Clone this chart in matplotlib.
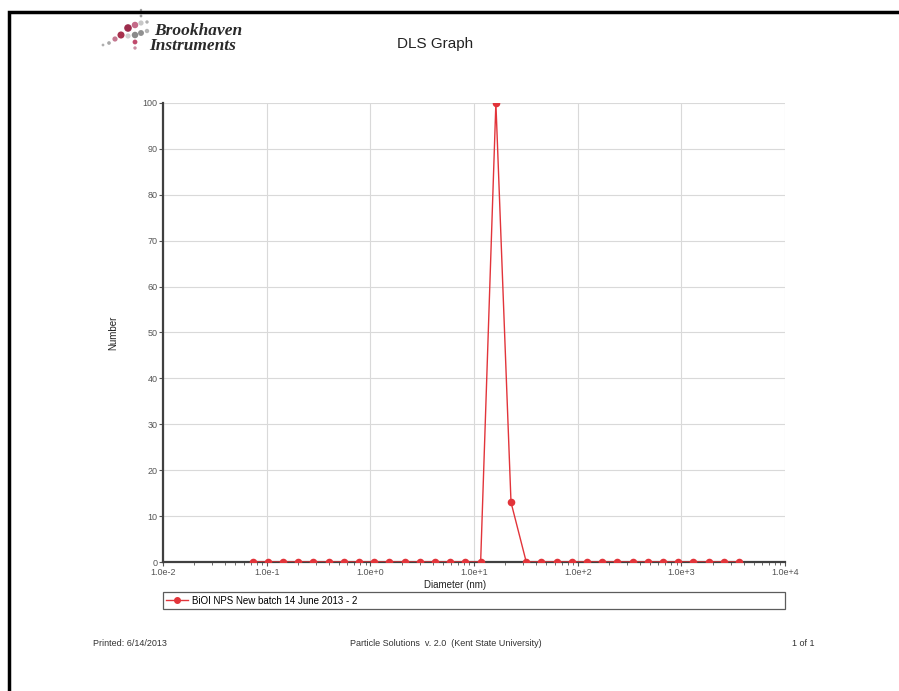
import numpy as np
import matplotlib
matplotlib.use("Agg")
import matplotlib.pyplot as plt
from matplotlib.lines import Line2D

plt.rcParams['font.family'] = ['Liberation Sans', 'DejaVu Sans']

# data
diameter = [0.0733, 0.1028, 0.144, 0.2018, 0.2827, 0.3963, 0.5555, 0.7783,
            1.091, 1.528, 2.143, 3.006, 4.207, 5.902, 8.26, 11.59,
            16.26, 22.75, 31.92, 44.67, 62.66, 87.9, 123.0, 172.6,
            241.5, 338.8, 475.3, 665.3, 933.3, 1306, 1832, 2570, 3597]
number = [0, 0, 0, 0, 0, 0, 0, 0,
          0, 0, 0, 0, 0, 0, 0, 0,
          100, 13, 0, 0, 0, 0, 0, 0,
          0, 0, 0, 0, 0, 0, 0, 0, 0]
series_name = "BiOI NPS New batch 14 June 2013 - 2"
xticks = [1e-2, 1e-1, 1e0, 1e1, 1e2, 1e3, 1e4]
xtick_labels = ["1.0e-2", "1.0e-1", "1.0e+0", "1.0e+1", "1.0e+2", "1.0e+3", "1.0e+4"]
yticks = list(range(0, 101, 10))

W, H = 899, 691
fig = plt.figure(figsize=(W / 100, H / 100), dpi=100)

# overlay axes in pixel coordinates for the page decoration
deco = fig.add_axes([0, 0, 1, 1], zorder=-1)
deco.set_xlim(0, W)
deco.set_ylim(H, 0)
deco.axis('off')
deco.plot([9, 9, W], [H, 12, 12], color='black', lw=2.5, solid_joinstyle='miter')

# logo dots
dots_x = [128, 135, 141, 147, 121, 115, 109, 103, 135, 135, 135, 141, 147, 141, 141, 128]
dots_y = [28, 25, 23, 22, 35, 39, 43, 45, 35, 42, 48, 33, 31, 16, 10, 36]
dots_s = [30, 22, 14, 6, 26, 14, 7, 4, 22, 12, 6, 18, 10, 4, 3, 14]
dots_c = ['#9c2c4c', '#c46a88', '#c8c8c8', '#b0b0b0', '#a8324e', '#c47890', '#a8a8a8',
          '#b0b0b0', '#8a8a8a', '#c04a6c', '#c890a4', '#909090', '#b4b4b4', '#a0a0a0',
          '#a0a0a0', '#d0d0d0']
deco.scatter(dots_x, dots_y, s=dots_s, c=dots_c, lw=0)
deco.text(154, 31, "Brookhaven", fontsize=12.5, style='italic', weight='bold',
          family='Liberation Serif', color='#2a2a2a', va='center')
deco.text(149, 46, "Instruments", fontsize=12.5, style='italic', weight='bold',
          family='Liberation Serif', color='#2a2a2a', va='center')
deco.text(435, 44, "DLS Graph", fontsize=11, ha='center', va='center', color='#222222')

# footer
deco.text(93, 643, "Printed: 6/14/2013", fontsize=6.5, color='#333333', va='center')
deco.text(446, 643, "Particle Solutions  v. 2.0  (Kent State University)", fontsize=6.5,
          color='#333333', va='center', ha='center')
deco.text(815, 643, "1 of 1", fontsize=6.5, color='#333333', va='center', ha='right')

ax = fig.add_axes([163 / W, 129 / H, 622 / W, 459 / H])
red = '#e2343a'
ax.plot(diameter, number, color=red, lw=1, zorder=3)
ax.scatter(diameter, number, s=30, color=red, lw=0, zorder=4, clip_on=True)
ax.set_xscale('log')
ax.set_xlim(1e-2, 1e4)
ax.set_ylim(0, 100)
ax.set_xticks(xticks)
ax.set_xticklabels(xtick_labels)
ax.set_yticks(yticks)
ax.tick_params(axis='both', labelsize=6.5, colors='#555555', length=3, width=0.8, pad=1)
ax.tick_params(axis='x', which='minor', length=2, width=0.6, colors='#555555')
ax.grid(True, which='major', color='#d9d9d9', lw=0.8)
for s in ['top', 'right']:
    ax.spines[s].set_visible(False)
for s in ['left', 'bottom']:
    ax.spines[s].set_color('#404040')
    ax.spines[s].set_linewidth(1.6)
ax.set_axisbelow(True)
ax.set_xlabel("Diameter (nm)", fontsize=7, color='#222222')
ax.xaxis.set_label_coords(0.47, -0.04)
ax.set_ylabel("Number", fontsize=7, color='#222222', fontstretch='condensed')
ax.yaxis.set_label_coords(-0.072, 0.5)

# legend box below the axes
handle = Line2D([], [], color=red, lw=1, marker='o', ms=4, mfc=red, mec=red)
leg = fig.legend([handle], [series_name], loc='center left',
                 bbox_to_anchor=(163 / W, 1 - 611 / H, 622 / W, 21 / H), mode='expand',
                 frameon=True, fancybox=False, edgecolor='#333333', fontsize=7,
                 borderaxespad=0, handlelength=2.2, handletextpad=0.4, borderpad=0.35)
leg.get_frame().set_linewidth(0.9)

fig.savefig("out.png", dpi=100)
